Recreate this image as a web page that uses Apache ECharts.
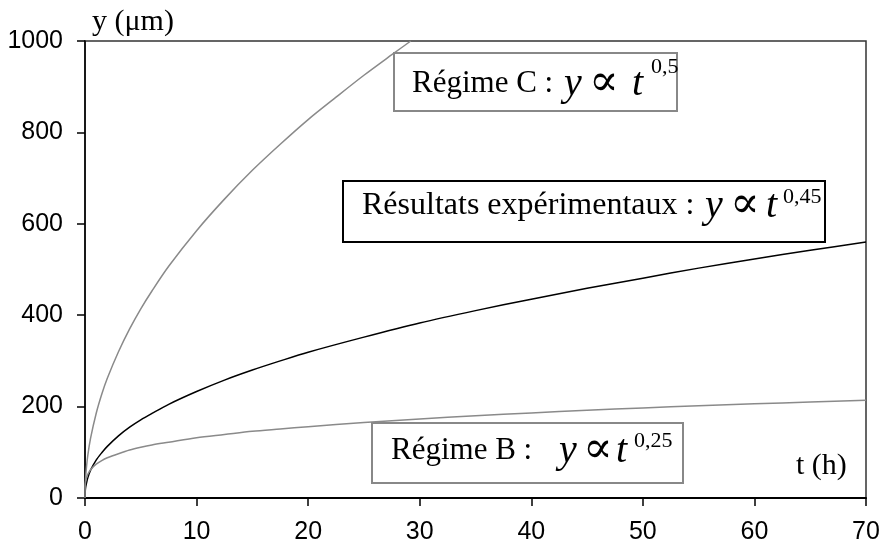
<!DOCTYPE html>
<html>
<head>
<meta charset="utf-8">
<script src="https://cdn.jsdelivr.net/npm/echarts@6/dist/echarts.min.js"></script>
<style>html,body{margin:0;padding:0;background:#fff}#c{width:884px;height:549px}</style>
</head>
<body>
<div id="c"></div>
<script>
// Values
const xTicks = [0, 10, 20, 30, 40, 50, 60, 70];
const yTicks = [0, 200, 400, 600, 800, 1000];

const tRegimeC = [0, 0.02, 0.05, 0.1, 0.25, 0.5, 1, 1.5, 2, 3, 4, 5, 6, 7.5, 10, 12.5, 15, 17.5, 20, 22.5, 25, 27.5, 29.2];
const yRegimeC = [0, 26, 41, 59, 93, 131, 185, 227, 262, 320, 370, 414, 453, 507, 585, 654, 717, 774, 828, 877, 925, 970, 1000];

const tExperimental = [0, 0.02, 0.05, 0.1, 0.25, 0.5, 1, 1.5, 2, 3, 4, 5, 6, 7.5, 10, 12.5, 15, 17.5, 20, 25, 30, 35, 40, 45, 50, 55, 60, 65, 70];
const yExperimental = [0, 14, 22, 29, 44, 61, 83, 99, 113, 136, 155, 171, 185, 205, 233, 258, 280, 300, 319, 352, 383, 410, 435, 459, 481, 503, 523, 542, 560];

const tRegimeB = [0, 0.02, 0.05, 0.1, 0.25, 0.5, 1, 1.5, 2, 3, 4, 5, 6, 7.5, 10, 12.5, 15, 17.5, 20, 25, 30, 35, 40, 45, 50, 55, 60, 65, 70];
const yRegimeB = [0, 28, 35, 42, 52, 62, 74, 82, 88, 97, 105, 111, 116, 122, 132, 139, 146, 151, 156, 165, 173, 180, 186, 192, 197, 202, 206, 210, 214];

const pairs = (ts, ys) => ts.map((t, i) => [t, ys[i]]);

const chart = echarts.init(document.getElementById('c'), null, {renderer: 'canvas'});
const serif = '"Liberation Serif", "Times New Roman", "DejaVu Serif", serif';

function txt(text, x, y, size, opts) {
  opts = opts || {};
  return {
    type: 'text', z: 110,
    style: {
      text: text, x: x, y: y,
      font: (opts.italic ? 'italic ' : '') + size + 'px ' + (opts.family || serif),
      fill: '#000', align: opts.align || 'left', verticalAlign: 'middle'
    }
  };
}
function box(x, y, w, h, color) {
  return {
    type: 'rect', z: 100,
    shape: {x: x, y: y, width: w, height: h},
    style: {fill: '#fff', stroke: color, lineWidth: 2}
  };
}
const propFam = '"DejaVu Serif", serif';

const option = {
  animation: false,
  backgroundColor: '#fff',
  grid: {left: 85, right: 18, top: 41, bottom: 51, show: true, borderColor: '#333', borderWidth: 1.5, backgroundColor: 'transparent'},
  xAxis: {
    type: 'value', min: 0, max: 70, interval: 10,
    axisLine: {show: true, onZero: false, lineStyle: {color: '#000', width: 2}},
    axisTick: {show: true, inside: false, length: 8, lineStyle: {color: '#000', width: 1.5}},
    axisLabel: {color: '#000', fontSize: 25, fontFamily: '"Liberation Sans", Arial, sans-serif', margin: 22,
      formatter: v => xTicks.includes(v) ? String(v) : ''},
    splitLine: {show: false}
  },
  yAxis: {
    type: 'value', min: 0, max: 1000, interval: 200,
    axisLine: {show: true, onZero: false, lineStyle: {color: '#000', width: 1.5}},
    axisTick: {show: true, inside: false, length: 8, lineStyle: {color: '#000', width: 1.5}},
    axisLabel: {color: '#000', fontSize: 25, fontFamily: '"Liberation Sans", Arial, sans-serif', margin: 22,
      formatter: v => yTicks.includes(v) ? String(v) : ''},
    splitLine: {show: false}
  },
  series: [
    {name: 'Régime C', type: 'line', data: pairs(tRegimeC, yRegimeC), showSymbol: false, smooth: 0.3,
      lineStyle: {color: '#8a8a8a', width: 1.5}, clip: true},
    {name: 'Résultats expérimentaux', type: 'line', data: pairs(tExperimental, yExperimental), showSymbol: false, smooth: 0.3,
      lineStyle: {color: '#000', width: 1.5}, clip: true},
    {name: 'Régime B', type: 'line', data: pairs(tRegimeB, yRegimeB), showSymbol: false, smooth: 0.3,
      lineStyle: {color: '#8a8a8a', width: 1.5}, clip: true}
  ],
  graphic: [
    txt('y (μm)', 92, 22, 30),
    txt('t (h)', 796, 466, 30),
    // Régime C box
    box(394, 53, 283, 58, '#888'),
    txt('Régime C :', 412, 84, 31),
    txt('y', 564, 84, 40, {italic: true}),
    txt('∝', 589, 84, 44, {family: propFam}),
    txt('t', 632, 84, 40, {italic: true}),
    txt('0,5', 651, 67, 22),
    // Résultats box
    box(343, 181, 482, 61, '#000'),
    txt('Résultats expérimentaux :', 362, 206, 32),
    txt('y', 705, 206, 40, {italic: true}),
    txt('∝', 730, 206, 44, {family: propFam}),
    txt('t', 766, 206, 40, {italic: true}),
    txt('0,45', 783, 197, 22),
    // Régime B box
    box(372, 423, 311, 60, '#888'),
    txt('Régime B :', 391, 451, 31),
    txt('y', 559, 451, 40, {italic: true}),
    txt('∝', 583, 451, 44, {family: propFam}),
    txt('t', 616, 451, 40, {italic: true}),
    txt('0,25', 634, 441, 22)
  ]
};
chart.setOption(option);
</script>
</body>
</html>
